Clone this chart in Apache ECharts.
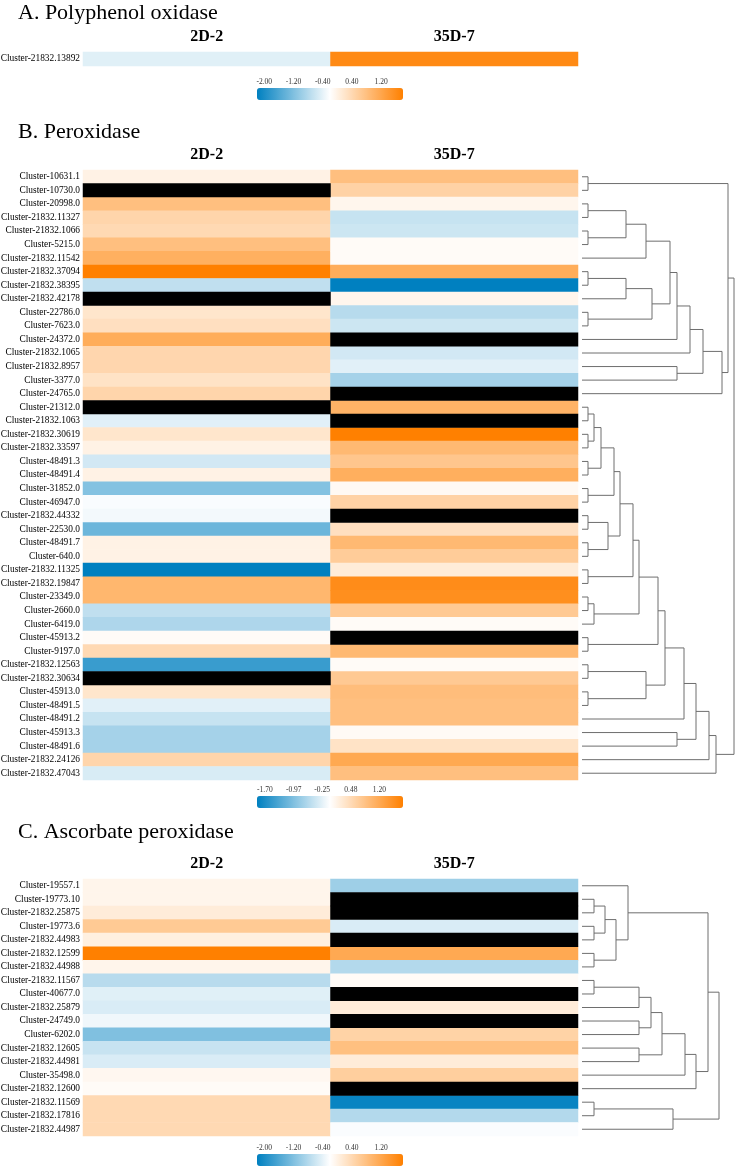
<!DOCTYPE html>
<html>
<head>
<meta charset="utf-8">
<title>heatmap</title>
<script src="https://cdn.jsdelivr.net/npm/echarts@6/dist/echarts.min.js"></script>
<style>
  html, body { margin: 0; padding: 0; background: #fff; }
  #chart { width: 735px; height: 1167px; }
</style>
</head>
<body>
<div id="chart"></div>
<script>
'use strict'
var samples = ['2D-2', '35D-7'];

// A. Polyphenol oxidase
var genesA = ['Cluster-21832.13892'];
var a2D = [-0.44];
var a35D = [1.64];
var ticksA = [-2.00, -1.20, -0.40, 0.40, 1.20];

// B. Peroxidase  (null = no value, drawn black)
var genesB = ['Cluster-10631.1', 'Cluster-10730.0', 'Cluster-20998.0', 'Cluster-21832.11327', 'Cluster-21832.1066',
    'Cluster-5215.0', 'Cluster-21832.11542', 'Cluster-21832.37094', 'Cluster-21832.38395', 'Cluster-21832.42178',
    'Cluster-22786.0', 'Cluster-7623.0', 'Cluster-24372.0', 'Cluster-21832.1065', 'Cluster-21832.8957',
    'Cluster-3377.0', 'Cluster-24765.0', 'Cluster-21312.0', 'Cluster-21832.1063', 'Cluster-21832.30619',
    'Cluster-21832.33597', 'Cluster-48491.3', 'Cluster-48491.4', 'Cluster-31852.0', 'Cluster-46947.0',
    'Cluster-21832.44332', 'Cluster-22530.0', 'Cluster-48491.7', 'Cluster-640.0', 'Cluster-21832.11325',
    'Cluster-21832.19847', 'Cluster-23349.0', 'Cluster-2660.0', 'Cluster-6419.0', 'Cluster-45913.2',
    'Cluster-9197.0', 'Cluster-21832.12563', 'Cluster-21832.30634', 'Cluster-45913.0', 'Cluster-48491.5',
    'Cluster-48491.2', 'Cluster-45913.3', 'Cluster-48491.6', 'Cluster-21832.24126', 'Cluster-21832.47043'];
var b2D = [0.14, null, 0.88, 0.56, 0.50, 0.88, 1.10, 1.80, -0.51, null,
    0.32, 0.41, 1.15, 0.54, 0.54, 0.36, 0.56, null, -0.27, 0.32,
    0.14, -0.38, 0.14, -0.94, -0.09, -0.14, -1.12, 0.14, 0.14, -1.90,
    1.00, 1.00, -0.51, -0.64, 0.01, 0.50, -1.49, null, 0.32, -0.27,
    -0.46, -0.70, -0.70, 0.56, -0.33];
var b35D = [0.88, 0.60, 0.08, -0.46, -0.42, 0.01, 0.01, 1.15, -1.90, 0.08,
    -0.57, -0.42, null, -0.38, -0.27, -0.70, null, 1.06, null, 1.80,
    0.97, 0.78, 1.12, 0.04, 0.60, null, 0.41, 0.97, 0.69, 0.23,
    1.62, 1.58, 0.73, 0.01, null, 0.97, 0.01, 0.73, 0.91, 0.88,
    0.88, 0.02, 0.36, 1.21, 0.88];
var ticksB = [-1.70, -0.97, -0.25, 0.48, 1.20];
// row clustering: [child, child, height], leaves are row indexes
var treeB = [[0, 1, 6], [2, 3, 6], [4, 5, 6], [46, 47, 44], [48, 6, 64], [7, 8, 6], [50, 9, 44], [10, 11, 6],
    [51, 52, 70], [49, 53, 88], [54, 12, 95], [55, 13, 108], [14, 15, 95], [56, 57, 121], [58, 16, 140], [45, 59, 146],
    [17, 18, 6], [19, 20, 6], [61, 62, 12], [21, 22, 6], [63, 64, 19], [23, 24, 6], [65, 66, 32], [25, 26, 6],
    [27, 28, 6], [68, 69, 26], [67, 70, 38], [29, 30, 6], [71, 72, 51], [31, 32, 6], [74, 33, 12], [73, 75, 57],
    [34, 35, 6], [76, 77, 76], [36, 37, 6], [38, 39, 6], [79, 80, 64], [78, 81, 83], [82, 40, 102], [41, 42, 95],
    [83, 84, 114], [85, 43, 127], [86, 44, 134], [60, 87, 152]];

// C. Ascorbate peroxidase
var genesC = ['Cluster-19557.1', 'Cluster-19773.10', 'Cluster-21832.25875', 'Cluster-19773.6', 'Cluster-21832.44983',
    'Cluster-21832.12599', 'Cluster-21832.44988', 'Cluster-21832.11567', 'Cluster-40677.0', 'Cluster-21832.25879',
    'Cluster-24749.0', 'Cluster-6202.0', 'Cluster-21832.12605', 'Cluster-21832.44981', 'Cluster-35498.0',
    'Cluster-21832.12600', 'Cluster-21832.11569', 'Cluster-21832.17816', 'Cluster-21832.44987'];
var c2D = [-0.04, -0.04, 0.10, 0.64, 0.04, 1.80, -0.04, -0.76, -0.44, -0.50,
    -0.32, -1.20, -0.64, -0.50, -0.08, -0.14, 0.40, 0.40, 0.40];
var c35D = [-0.96, null, null, -0.50, null, 1.16, -0.80, -0.14, null, 0.10,
    null, 0.50, 0.80, 0.10, 0.56, null, -2.14, -0.80, -0.24];
var ticksC = [-2.00, -1.20, -0.40, 0.40, 1.20];
var treeC = [[1, 2, 12], [3, 4, 12], [19, 20, 23], [5, 6, 12], [21, 22, 34], [0, 23, 46], [7, 8, 12], [25, 9, 57],
    [10, 11, 57], [26, 27, 69], [12, 13, 57], [28, 29, 80], [30, 14, 103], [31, 15, 114], [24, 32, 126],
    [16, 17, 12], [34, 18, 91], [33, 35, 137]];

var colors = ['#0080c0', '#ffffff', '#ff8000'];
var serif = 'Liberation Serif';

//value cells or empty (black) cells
function heatData(cols, empty) {
    var out = [];
    cols.forEach(function (col, x) {
        col.forEach(function (v, y) {
            if ((v === null) === empty) out.push([x, y, empty ? 0 : v]);
        });
    });
    return out;
}

//dendrogram as U shaped polylines
function treeLines(n, merges) {
    var ys = [], hs = [];
    for (var i = 0; i < n; i++) { ys.push(i + 0.5); hs.push(0); }
    var out = [];
    merges.forEach(function (m) {
        var a = m[0], b = m[1], h = m[2];
        out.push({coords: [[hs[a], ys[a]], [h, ys[a]], [h, ys[b]], [hs[b], ys[b]]]});
        ys.push((ys[a] + ys[b]) / 2);
        hs.push(h);
    });
    return out;
}

var heatGrids = [
    {left: 83, top: 52, width: 495, height: 14},
    {left: 83, top: 170, width: 495, height: 610},
    {left: 83, top: 879, width: 495, height: 257}
];
var barTops = [88, 796, 1154];
var ranges = [[-2.2, 1.8], [-1.9, 1.8], [-2.2, 1.8]];
var tickSets = [ticksA, ticksB, ticksC];
var geneSets = [genesA, genesB, genesC];

var grid = heatGrids.concat([
    {left: 582, top: 170, width: 152, height: 610},
    {left: 582, top: 879, width: 137, height: 257}
]);
var xAxis = [], yAxis = [];
heatGrids.forEach(function (g, i) {
    xAxis.push({
        gridIndex: i, type: 'category', data: samples, position: 'top',
        axisLine: {show: false}, axisTick: {show: false},
        axisLabel: {margin: 7, fontFamily: serif, fontSize: 16, fontWeight: 'bold', color: '#000'}
    });
    yAxis.push({
        gridIndex: i, type: 'category', data: geneSets[i], inverse: true,
        axisLine: {show: false}, axisTick: {show: false},
        axisLabel: {margin: 3, fontFamily: serif, fontSize: 9.4, color: '#000', interval: 0}
    });
});
[[3, 152, genesB.length], [4, 137, genesC.length]].forEach(function (d) {
    xAxis.push({gridIndex: d[0], type: 'value', min: 0, max: d[1], show: false});
    yAxis.push({gridIndex: d[0], type: 'value', min: 0, max: d[2], inverse: true, show: false});
});
//colour bar tick labels
barTops.forEach(function (t, i) {
    grid.push({left: 257, top: t, width: 146, height: 12});
    xAxis.push({
        gridIndex: 5 + i, type: 'value', min: ranges[i][0], max: ranges[i][1], position: 'top',
        axisLine: {show: false}, axisTick: {show: false}, splitLine: {show: false},
        axisLabel: {
            customValues: tickSets[i], margin: 2, fontFamily: serif, fontSize: 7.5, color: '#333',
            formatter: function (v) { return v.toFixed(2); }
        }
    });
    yAxis.push({gridIndex: 5 + i, type: 'value', show: false});
});
//keep grids exactly where they are put
grid.forEach(function (g) { g.outerBoundsMode = 'none'; g.containLabel = false; });

var visualMap = barTops.map(function (t, i) {
    return {
        type: 'continuous', seriesIndex: [0, 1, 3][i], min: ranges[i][0], max: ranges[i][1],
        orient: 'horizontal', left: 257, top: t, itemWidth: 12, itemHeight: 146, padding: 0,
        calculable: false, text: null, hoverLink: false, inRange: {color: colors}
    };
});

var option = {
    animation: false,
    backgroundColor: '#fff',
    title: [
        {text: 'A. Polyphenol oxidase', left: 18, top: 2},
        {text: 'B. Peroxidase', left: 18, top: 121},
        {text: 'C. Ascorbate peroxidase', left: 18, top: 821}
    ].map(function (t) {
        t.padding = 0;
        t.textStyle = {fontFamily: serif, fontSize: 22, fontWeight: 'normal', color: '#000'};
        return t;
    }),
    grid: grid,
    xAxis: xAxis,
    yAxis: yAxis,
    visualMap: visualMap,
    series: [
        {type: 'heatmap', xAxisIndex: 0, yAxisIndex: 0, data: heatData([a2D, a35D], false)},
        {type: 'heatmap', xAxisIndex: 1, yAxisIndex: 1, data: heatData([b2D, b35D], false)},
        {type: 'heatmap', xAxisIndex: 1, yAxisIndex: 1, data: heatData([b2D, b35D], true), itemStyle: {color: '#000'}},
        {type: 'heatmap', xAxisIndex: 2, yAxisIndex: 2, data: heatData([c2D, c35D], false)},
        {type: 'heatmap', xAxisIndex: 2, yAxisIndex: 2, data: heatData([c2D, c35D], true), itemStyle: {color: '#000'}},
        {type: 'lines', coordinateSystem: 'cartesian2d', xAxisIndex: 3, yAxisIndex: 3, polyline: true,
            data: treeLines(genesB.length, treeB), lineStyle: {color: '#6e6e6e', width: 1, opacity: 1}},
        {type: 'lines', coordinateSystem: 'cartesian2d', xAxisIndex: 4, yAxisIndex: 4, polyline: true,
            data: treeLines(genesC.length, treeC), lineStyle: {color: '#6e6e6e', width: 1, opacity: 1}}
    ]
};

var chart = echarts.init(document.getElementById('chart'));
chart.setOption(option);
window.onresize = chart.resize;
</script>
</body>
</html>
